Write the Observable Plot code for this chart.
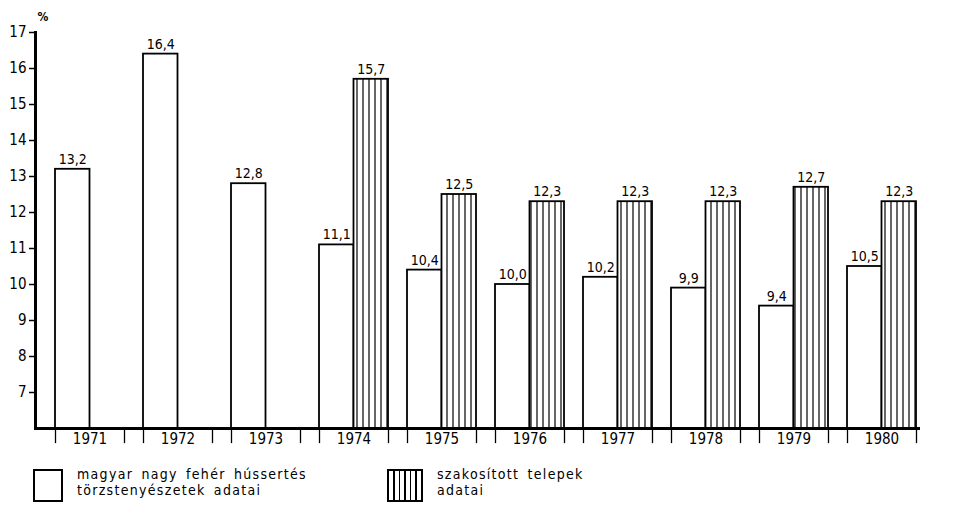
<!DOCTYPE html>
<html>
<head>
<meta charset="utf-8">
<script src="https://cdn.jsdelivr.net/npm/d3@7"></script>
<script src="https://cdn.jsdelivr.net/npm/@observablehq/plot@0.6"></script>
<style>
  html, body { margin: 0; padding: 0; background: #fff; }
  #wrap { position: relative; width: 958px; height: 508px; font-family: "DejaVu Sans Condensed", "Liberation Sans Narrow", sans-serif; color: #000; }
  #chart svg { display: block; }
  .sw { position: absolute; border: 2px solid #000; box-sizing: border-box; background: #fff; }
  .sw.h { background: repeating-linear-gradient(90deg, #fff 0 4px, #000 4px 5.5px); }
  .lt { position: absolute; font-size: 14px; line-height: 16px; white-space: nowrap; letter-spacing: 1.3px; word-spacing: 3px; }
</style>
</head>
<body>
<div id="wrap">
  <div id="chart"></div>
</div>
<script>
// ---- data ----
const years = ["1971","1972","1973","1974","1975","1976","1977","1978","1979","1980"];
const whiteValues = [13.2, 16.4, 12.8, 11.1, 10.4, 10.0, 10.2, 9.9, 9.4, 10.5];
const hatchedValues = [null, null, null, 15.7, 12.5, 12.3, 12.3, 12.3, 12.7, 12.3];
const yTicks = [7, 8, 9, 10, 11, 12, 13, 14, 15, 16, 17];
const yDomain = [6, 17];
const unitLabel = "%";
const legendLabels = ["magyar nagy fehér hússertés\ntörzstenyészetek adatai", "szakosított telepek\nadatai"];

// ---- layout ----
const W = 958, H = 455;
const mL = 35, mR = 22, mT = 32, mB = 27;
const pIn = 0.216, pOut = 0.227;
const step = (W - mL - mR) / (years.length - pIn + 2 * pOut);
const bw = step * (1 - pIn);
const half = bw / 2;
const BASE = yDomain[0];

const rows = years.map((y, i) => ({year: y, white: whiteValues[i], hatched: hatchedValues[i]}));
const hrows = rows.filter(d => d.hatched != null);
const loc = d3.formatLocale({decimal: ",", thousands: " ", grouping: [3], currency: ["", ""]});
const fmt = loc.format(".1f");

const svg = Plot.plot({
  width: W, height: H,
  marginLeft: mL, marginRight: mR, marginTop: mT, marginBottom: mB,
  style: {fontFamily: "'DejaVu Sans Condensed', 'Liberation Sans Narrow', sans-serif", background: "#fff", color: "#000"},
  x: {type: "band", domain: years, paddingInner: pIn, paddingOuter: pOut, axis: null},
  y: {domain: yDomain, axis: null},
  marks: [
    Plot.barY(rows, {x: "year", y1: BASE, y2: "white", fill: "white", stroke: "black", strokeWidth: 1.8, insetRight: half}),
    Plot.barY(hrows, {x: "year", y1: BASE, y2: "hatched", fill: "url(#hatch)", stroke: "black", strokeWidth: 1.8, insetLeft: half}),
    Plot.text(rows, {x: "year", y: "white", text: d => fmt(d.white), dx: -half / 2, dy: -10, fontSize: 14, fill: "black"}),
    Plot.text(hrows, {x: "year", y: "hatched", text: d => fmt(d.hatched), dx: half / 2, dy: -10, fontSize: 14, fill: "black"}),
    Plot.ruleY([BASE], {stroke: "black", strokeWidth: 3, insetRight: 16}),
    Plot.frame({anchor: "left", stroke: "black", strokeWidth: 3}),
    Plot.axisY({ticks: yTicks, tickSize: 6, tickPadding: 3, fontSize: 15, label: null, tickFormat: d => String(d), strokeWidth: 1.5}),
    Plot.axisX({tickSize: 0, tickPadding: 5, fontSize: 15, label: null}),
    Plot.ruleX(rows, {x: "year", y1: BASE, y2: BASE - 0.42, dx: -half, stroke: "black", strokeWidth: 1.3}),
    Plot.ruleX(rows, {x: "year", y1: BASE, y2: BASE - 0.42, dx: half, stroke: "black", strokeWidth: 1.3}),
    Plot.text([unitLabel], {frameAnchor: "top-left", text: d => d, dx: 2, dy: -20, fontSize: 12, fontWeight: "bold", fill: "black"})
  ]
});

const defs = d3.select(svg).insert("defs", ":first-child");
const pat = defs.append("pattern").attr("id", "hatch").attr("patternUnits", "userSpaceOnUse").attr("width", 6).attr("height", 10);
pat.append("rect").attr("width", 6).attr("height", 10).attr("fill", "white");
pat.append("line").attr("x1", 3).attr("x2", 3).attr("y1", 0).attr("y2", 10).attr("stroke", "black").attr("stroke-width", 1.2);

document.getElementById("chart").appendChild(svg);

// ---- legend ----
const wrap = document.getElementById("wrap");
const legendItems = [
  {cls: "sw", left: 33, width: 30, textLeft: 77, label: legendLabels[0]},
  {cls: "sw h", left: 387, width: 36, textLeft: 437, label: legendLabels[1]}
];
legendItems.forEach(it => {
  const b = document.createElement("div");
  b.className = it.cls;
  Object.assign(b.style, {left: it.left + "px", top: "469px", width: it.width + "px", height: "33px"});
  wrap.appendChild(b);
  const t = document.createElement("div");
  t.className = "lt";
  Object.assign(t.style, {left: it.textLeft + "px", top: "466px"});
  t.innerHTML = it.label.split("\n").join("<br>");
  wrap.appendChild(t);
});
</script>
</body>
</html>
